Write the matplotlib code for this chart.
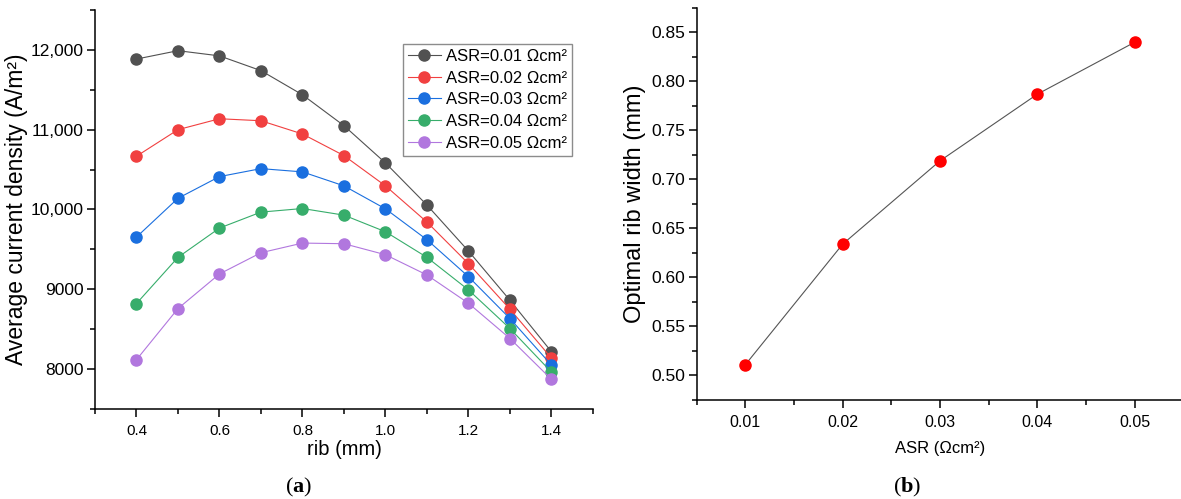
import numpy as np
import matplotlib
matplotlib.use("Agg")
import matplotlib.pyplot as plt
from matplotlib.ticker import MultipleLocator, FuncFormatter

plt.rcParams["font.family"] = ["Liberation Sans", "DejaVu Sans"]
plt.rcParams["mathtext.fontset"] = "custom"
plt.rcParams["mathtext.rm"] = "Liberation Serif"
plt.rcParams["mathtext.bf"] = "Liberation Serif:bold"

# (a) average current density vs rib width
rib = [0.4, 0.5, 0.6, 0.7, 0.8, 0.9, 1.0, 1.1, 1.2, 1.3, 1.4]
asr_labels = ["ASR=0.01 Ωcm²", "ASR=0.02 Ωcm²", "ASR=0.03 Ωcm²", "ASR=0.04 Ωcm²", "ASR=0.05 Ωcm²"]
j_001 = [11885, 11990, 11925, 11740, 11437, 11050, 10583, 10055, 9479, 8862, 8217]
j_002 = [10667, 11000, 11137, 11112, 10946, 10675, 10296, 9842, 9321, 8750, 8137]
j_003 = [9654, 10140, 10412, 10512, 10471, 10296, 10008, 9621, 9158, 8633, 8050]
j_004 = [8821, 9400, 9767, 9967, 10012, 9929, 9721, 9400, 8992, 8508, 7962]
j_005 = [8117, 8758, 9192, 9458, 9579, 9571, 9433, 9179, 8825, 8383, 7871]

# (b) optimal rib width vs ASR
asr = [0.01, 0.02, 0.03, 0.04, 0.05]
opt_rib = [0.511, 0.634, 0.719, 0.787, 0.840]

colors = ["#515151", "#F14040", "#1A6FDF", "#37AD6B", "#B177DE"]

fig = plt.figure(figsize=(11.81, 4.99), dpi=100)
ax1 = fig.add_axes([0.0804, 0.1804, 0.4217, 0.7996])
ax2 = fig.add_axes([0.5899, 0.1984, 0.412, 0.7856])

for ax in (ax1, ax2):
    ax.spines["top"].set_visible(False)
    ax.spines["right"].set_visible(False)
    for s in ("left", "bottom"):
        ax.spines[s].set_linewidth(1.1)
    ax.tick_params(which="major", direction="out", length=6, width=1.1)
    ax.tick_params(which="minor", direction="out", length=3.5, width=1.1)

for ys, c, lab in zip([j_001, j_002, j_003, j_004, j_005], colors, asr_labels):
    ax1.plot(rib, ys, "-o", color=c, lw=0.8, ms=8, label=lab)

ax1.set_xlim(0.3, 1.5)
ax1.set_ylim(7500, 12500)
ax1.xaxis.set_major_locator(MultipleLocator(0.2))
ax1.xaxis.set_minor_locator(MultipleLocator(0.1))
ax1.yaxis.set_major_locator(MultipleLocator(1000))
ax1.yaxis.set_minor_locator(MultipleLocator(500))
ax1.yaxis.set_major_formatter(FuncFormatter(lambda v, p: f"{v:,.0f}" if v >= 10000 else f"{v:.0f}"))
ax1.xaxis.set_major_formatter(FuncFormatter(lambda v, p: f"{v:.1f}"))
ax1.tick_params(axis="x", labelsize=11, pad=5)
ax1.tick_params(axis="y", labelsize=12.5, pad=2)
ax1.set_xlabel("rib (mm)", fontsize=14.5, labelpad=1)
ax1.set_ylabel("Average current density (A/m²)", fontsize=16.5, labelpad=2)
leg = ax1.legend(loc="upper right", bbox_to_anchor=(0.958, 0.915), fontsize=12,
                 frameon=True, fancybox=False, edgecolor="#707070",
                 handlelength=2.0, handletextpad=0.3, borderpad=0.3, labelspacing=0.4,
                 borderaxespad=0)
leg.get_frame().set_linewidth(1.0)

ax2.plot(asr, opt_rib, "-", color="#555555", lw=0.8)
ax2.plot(asr, opt_rib, "o", color="#FF0000", ms=8)
ax2.set_xlim(0.005, 0.055)
ax2.set_ylim(0.475, 0.875)
ax2.xaxis.set_major_locator(MultipleLocator(0.01))
ax2.xaxis.set_minor_locator(MultipleLocator(0.005))
ax2.yaxis.set_major_locator(MultipleLocator(0.05))
ax2.yaxis.set_minor_locator(MultipleLocator(0.025))
ax2.xaxis.set_major_formatter(FuncFormatter(lambda v, p: f"{v:.2f}"))
ax2.yaxis.set_major_formatter(FuncFormatter(lambda v, p: f"{v:.2f}"))
ax2.tick_params(axis="x", labelsize=11.5, pad=5)
ax2.tick_params(axis="y", labelsize=12.5, pad=2)
ax2.set_xlabel("ASR (Ωcm²)", fontsize=12, labelpad=8)
ax2.set_ylabel("Optimal rib width (mm)", fontsize=17, labelpad=4)

fig.text(299 / 1181, 0.024, r"($\mathbf{a}$)", ha="center", va="center", fontsize=16,
         family="Liberation Serif")
fig.text(907 / 1181, 0.024, r"($\mathbf{b}$)", ha="center", va="center", fontsize=16,
         family="Liberation Serif")

fig.savefig("out.png", dpi=100)
